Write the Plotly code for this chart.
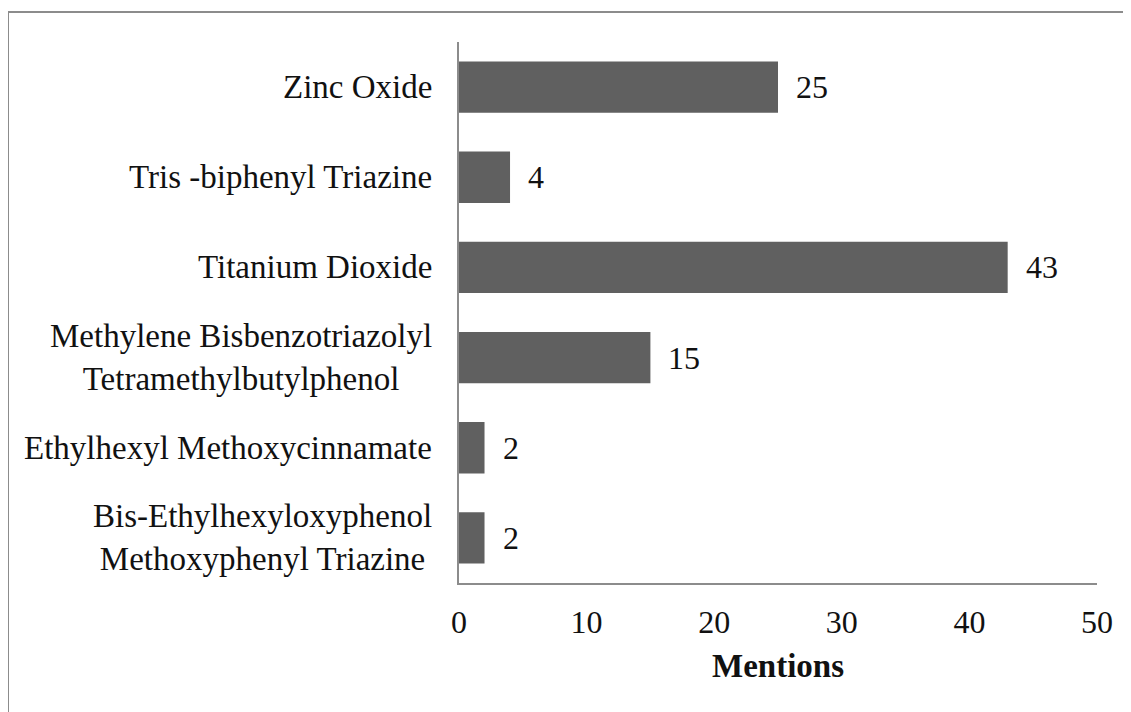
import plotly.graph_objects as go

categories = [
    "Bis-Ethylhexyloxyphenol<br>Methoxyphenyl Triazine",
    "Ethylhexyl Methoxycinnamate",
    "Methylene Bisbenzotriazolyl<br>Tetramethylbutylphenol",
    "Titanium Dioxide",
    "Tris -biphenyl Triazine",
    "Zinc Oxide",
]
mentions = [2, 2, 15, 43, 4, 25]
x_ticks = [0, 10, 20, 30, 40, 50]

FONT = "Liberation Serif, Times New Roman, serif"
AXIS_GRAY = "#8c8c8c"
TXT = "#111111"

# page body has an 8px default margin; compensate so the plot area lands at 459..1097 x 42..583
PL, PT, PW, PH = 459, 42, 638, 541
OFF = 8

fig = go.Figure(
    go.Bar(
        x=mentions,
        y=categories,
        orientation="h",
        marker=dict(color="#606060", line=dict(width=0)),
        hoverinfo="x+y",
    )
)

annotations = []
for cat, val in zip(categories, mentions):
    annotations.append(dict(
        x=val, y=cat, xref="x", yref="y", text=str(val), showarrow=False,
        xanchor="left", yanchor="middle", xshift=16,
        font=dict(family=FONT, size=32, color=TXT),
    ))
    annotations.append(dict(
        x=0, y=cat, xref="paper", yref="y", text=cat, showarrow=False,
        xanchor="right", yanchor="middle", align="center", xshift=-25,
        font=dict(family=FONT, size=33, color=TXT),
    ))
annotations.append(dict(
    x=0.5, y=0, xref="paper", yref="paper", text="<b>Mentions</b>", showarrow=False,
    xanchor="center", yanchor="middle", yshift=-83,
    font=dict(family=FONT, size=33, color=TXT),
))

fig.update_layout(
    width=1131,
    height=712,
    margin=dict(l=PL - OFF, r=1131 - (PL - OFF) - PW, t=PT - OFF, b=712 - (PT - OFF) - PH),
    paper_bgcolor="white",
    plot_bgcolor="white",
    showlegend=False,
    bargap=0.43,
    font=dict(family=FONT, color=TXT),
    annotations=annotations,
    shapes=[dict(
        type="rect", xref="paper", yref="paper",
        x0=(8 - PL) / PW, x1=1.2, y0=-0.4, y1=(PT + PH - 12) / PH,
        line=dict(color="#8c8c8c", width=2), fillcolor="rgba(0,0,0,0)",
        layer="below",
    )],
    xaxis=dict(
        range=[0, 50],
        tickvals=x_ticks,
        showgrid=False,
        zeroline=False,
        showline=True,
        linecolor=AXIS_GRAY,
        linewidth=2,
        ticks="",
        ticklabelstandoff=10,
        tickfont=dict(family=FONT, size=32, color=TXT),
    ),
    yaxis=dict(
        categoryorder="array",
        categoryarray=categories,
        showgrid=False,
        zeroline=False,
        showline=True,
        linecolor=AXIS_GRAY,
        linewidth=2,
        ticks="",
        showticklabels=False,
    ),
)

fig.write_html("out.html")
